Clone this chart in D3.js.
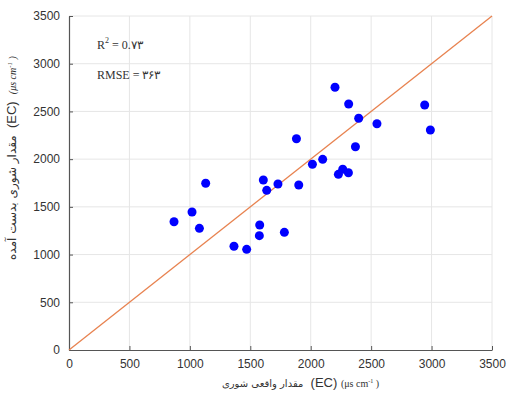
<!DOCTYPE html>
<html>
<head>
<meta charset="utf-8">
<script src="https://cdn.jsdelivr.net/npm/d3@7"></script>
<style>
  body { margin: 0; background: #fff; }
  .tick text { font-family: "Liberation Sans", Arial, sans-serif; font-size: 12px; fill: #333; }
  .lbl { white-space: pre; }
</style>
</head>
<body>
<script>
// measured vs predicted EC
const measured  = [869, 1018, 1079, 1131, 1365, 1470, 1578, 1575, 1608, 1636, 1729, 1782, 1901,
                   1882, 2014, 2099, 2201, 2229, 2265, 2312, 2314, 2370, 2397, 2548, 2943, 2990];
const predicted = [1344, 1446, 1275, 1747, 1087, 1055, 1310, 1198, 1781, 1673, 1740, 1233, 1729,
                   2214, 1946, 1998, 2753, 1841, 1894, 1858, 2578, 2130, 2428, 2371, 2567, 2305];
const ticks = [0, 500, 1000, 1500, 2000, 2500, 3000, 3500];
const oneToOne = [0, 3500];

const margin = {top: 16, right: 19, bottom: 44, left: 69};
const W = 511, H = 394;
const width = W - margin.left - margin.right;
const height = H - margin.top - margin.bottom;

const x = d3.scaleLinear().domain([0, 3500]).range([0, width]);
const y = d3.scaleLinear().domain([0, 3500]).range([height, 0]);

const svg = d3.select("body").append("svg")
  .attr("width", W).attr("height", H)
  .append("g")
  .attr("transform", "translate(" + margin.left + "," + margin.top + ")");

// grid
svg.append("g").selectAll("line").data(ticks.slice(1)).enter().append("line")
  .attr("x1", d => x(d)).attr("x2", d => x(d))
  .attr("y1", 0).attr("y2", height)
  .attr("stroke", "#e6e6e6").attr("stroke-width", 1);
svg.append("g").selectAll("line").data(ticks.slice(1)).enter().append("line")
  .attr("x1", 0).attr("x2", width)
  .attr("y1", d => y(d)).attr("y2", d => y(d))
  .attr("stroke", "#e6e6e6").attr("stroke-width", 1);

// axes
const fmt = d3.format("d");
const xAxis = d3.axisBottom(x).tickValues(ticks).tickFormat(fmt).tickSizeInner(-4).tickSizeOuter(0).tickPadding(9);
const yAxis = d3.axisLeft(y).tickValues(ticks).tickFormat(fmt).tickSizeInner(-4).tickSizeOuter(0).tickPadding(9);

const gx = svg.append("g").attr("transform", "translate(0," + height + ")").call(xAxis);
const gy = svg.append("g").call(yAxis);
[gx, gy].forEach(g => {
  g.select(".domain").attr("stroke", "#555").attr("stroke-width", 1.2);
  g.selectAll(".tick line").attr("stroke", "#555");
});

// 1:1 line
svg.append("line")
  .attr("x1", x(oneToOne[0])).attr("y1", y(oneToOne[0]))
  .attr("x2", x(oneToOne[1])).attr("y2", y(oneToOne[1]))
  .attr("stroke", "#e8824f").attr("stroke-width", 1.3);

// points
svg.selectAll(".pt").data(measured).enter().append("circle")
  .attr("class", "pt")
  .attr("cx", d => x(d))
  .attr("cy", (d, i) => y(predicted[i]))
  .attr("r", 4.5)
  .attr("fill", "#0000ff");

// annotations
const r2 = svg.append("text")
  .attr("x", 28).attr("y", 33)
  .style("font-family", "'Liberation Serif', 'Times New Roman', serif")
  .style("font-size", "12px").attr("fill", "#333");
r2.append("tspan").text("R");
r2.append("tspan").attr("dy", -6).style("font-size", "8px").text("2");
r2.append("tspan").attr("dy", 6).text(" = 0.۷۳");

svg.append("text")
  .attr("x", 28).attr("y", 63)
  .style("font-family", "'Liberation Serif', 'Times New Roman', serif")
  .style("font-size", "12px").attr("fill", "#333")
  .text("RMSE = ۳۶۳");

// x label
const xl = svg.append("text")
  .attr("class", "lbl")
  .attr("x", width / 2 + 20).attr("y", height + 37)
  .attr("text-anchor", "middle")
  .attr("direction", "ltr")
  .attr("fill", "#333");
xl.append("tspan").style("font-family", "'DejaVu Sans', sans-serif").style("font-size", "10px")
  .text("مقدار واقعی شوری");
xl.append("tspan").style("font-family", "'Liberation Sans', Arial, sans-serif").style("font-size", "13px")
  .text("  (EC) ");
xl.append("tspan").style("font-family", "'Liberation Serif', serif").style("font-size", "10px")
  .text("(μs cm");
xl.append("tspan").style("font-family", "'Liberation Serif', serif").style("font-size", "6px").attr("dy", -4)
  .text("-1");
xl.append("tspan").style("font-family", "'Liberation Serif', serif").style("font-size", "10px").attr("dy", 4)
  .text(" )");

// y label
const yl = svg.append("text")
  .attr("class", "lbl")
  .attr("transform", "translate(" + (-53) + "," + (height / 2 - 25) + ") rotate(-90)")
  .attr("text-anchor", "middle")
  .attr("direction", "ltr")
  .attr("fill", "#333");
yl.append("tspan").style("font-family", "'DejaVu Sans', sans-serif").style("font-size", "12px")
  .text("مقدار شوری بدست آمده");
yl.append("tspan").style("font-family", "'Liberation Sans', Arial, sans-serif").style("font-size", "13px")
  .text("  (EC)  ");
yl.append("tspan").style("font-family", "'Liberation Serif', serif").style("font-size", "10px").style("font-style", "italic")
  .text("(μs cm");
yl.append("tspan").style("font-family", "'Liberation Serif', serif").style("font-size", "7px").style("font-style", "italic").attr("dy", -4)
  .text("-1");
yl.append("tspan").style("font-family", "'Liberation Serif', serif").style("font-size", "10px").style("font-style", "italic").attr("dy", 4)
  .text(" )");
</script>
</body>
</html>
